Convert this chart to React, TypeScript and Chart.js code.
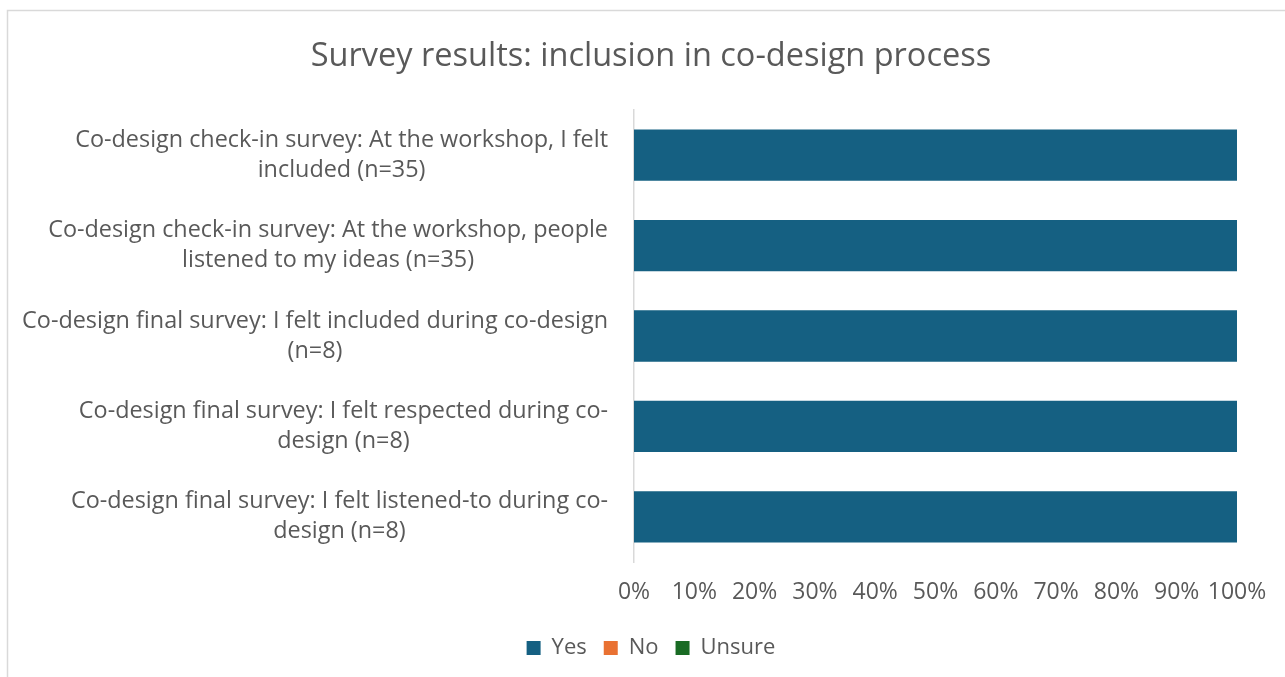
import React, { useEffect, useRef } from "react";
import { Chart, registerables } from "chart.js";

Chart.register(...registerables);

const titleText = "Survey results: inclusion in co-design process";

const categories: string[][] = [
  ["Co-design check-in survey: At the workshop, I felt", "included (n=35)"],
  ["Co-design check-in survey: At the workshop, people", "listened to my ideas (n=35)"],
  ["Co-design final survey: I felt included during co-design", "(n=8)"],
  ["Co-design final survey: I felt respected during co-", "design (n=8)"],
  ["Co-design final survey: I felt listened-to during co-", "design (n=8)"],
];

const yesValues = [100, 100, 100, 100, 100];
const noValues = [0, 0, 0, 0, 0];
const unsureValues = [0, 0, 0, 0, 0];

const xTickValues = [0, 10, 20, 30, 40, 50, 60, 70, 80, 90, 100];

const FONT = "'Open Sans', sans-serif";
const TEXT = "#595959";
const LINE = "#d9d9d9";

// Category labels: each block is right-aligned against the axis,
// with its lines centred within the block.
const categoryLabelPlugin = {
  id: "categoryLabels",
  afterDraw(chart: any) {
    const ctx = chart.ctx;
    const yScale = chart.scales.y;
    const labels = chart.data.labels as string[][];
    const lineH = 30;
    ctx.save();
    ctx.font = `23.4px ${FONT}`;
    ctx.fillStyle = TEXT;
    ctx.textAlign = "center";
    ctx.textBaseline = "middle";
    labels.forEach((lines, i) => {
      const cy = yScale.getPixelForTick(i);
      const maxW = Math.max(...lines.map((l) => ctx.measureText(l).width));
      const right = chart.chartArea.left - 26;
      const cx = right - maxW / 2;
      lines.forEach((l, j) => {
        ctx.fillText(l, cx, cy + (j - (lines.length - 1) / 2) * lineH);
      });
    });
    ctx.restore();
  },
};

// Thin frame around the chart
const framePlugin = {
  id: "frame",
  beforeDraw(chart: any) {
    const ctx = chart.ctx;
    ctx.save();
    ctx.strokeStyle = LINE;
    ctx.lineWidth = 1.5;
    ctx.strokeRect(7.5, 10.5, chart.width + 20, chart.height + 20);
    ctx.restore();
  },
};

export default function App() {
  const canvasRef = useRef<HTMLCanvasElement | null>(null);

  useEffect(() => {
    if (!canvasRef.current) return;
    const chart = new Chart(canvasRef.current, {
      type: "bar",
      data: {
        labels: categories as any,
        datasets: [
          { label: "Yes", data: yesValues, backgroundColor: "#156082" },
          { label: "No", data: noValues, backgroundColor: "#E97132" },
          { label: "Unsure", data: unsureValues, backgroundColor: "#196B24" },
        ],
      },
      options: {
        indexAxis: "y",
        animation: false,
        responsive: true,
        maintainAspectRatio: false,
        datasets: {
          bar: { barPercentage: 1, categoryPercentage: 0.567, borderWidth: 0 },
        },
        layout: { padding: { left: 65, right: 48, top: 0, bottom: 8 } },
        scales: {
          x: {
            stacked: true,
            min: 0,
            max: 100,
            afterBuildTicks(scale: any) {
              scale.ticks = xTickValues.map((v) => ({ value: v }));
            },
            afterFit(scale: any) {
              scale.height = 58;
            },
            grid: { display: false },
            border: { display: false },
            ticks: {
              color: TEXT,
              font: { family: FONT, size: 23 },
              padding: 9,
              maxRotation: 0,
              autoSkip: false,
              callback: (v: any) => `${v}%`,
            },
          },
          y: {
            stacked: true,
            afterFit(scale: any) {
              scale.width = 634 - 65;
            },
            grid: { display: false },
            border: { display: true, color: LINE, width: 1.5 },
            ticks: { display: false },
          },
        },
        plugins: {
          title: {
            display: true,
            text: titleText,
            color: TEXT,
            font: { family: FONT, size: 32.5, weight: "normal" },
            padding: { top: 37, bottom: 34 },
          },
          legend: {
            position: "bottom",
            labels: {
              color: TEXT,
              font: { family: FONT, size: 22 },
              boxWidth: 14,
              boxHeight: 14,
              padding: 17,
            },
          },
          tooltip: { enabled: false },
        },
      },
      plugins: [categoryLabelPlugin, framePlugin],
    });
    return () => chart.destroy();
  }, []);

  return (
    <div style={{ position: "absolute", left: 0, top: 0, width: 1285, height: 677, background: "#fff" }}>
      <canvas ref={canvasRef} />
    </div>
  );
}
